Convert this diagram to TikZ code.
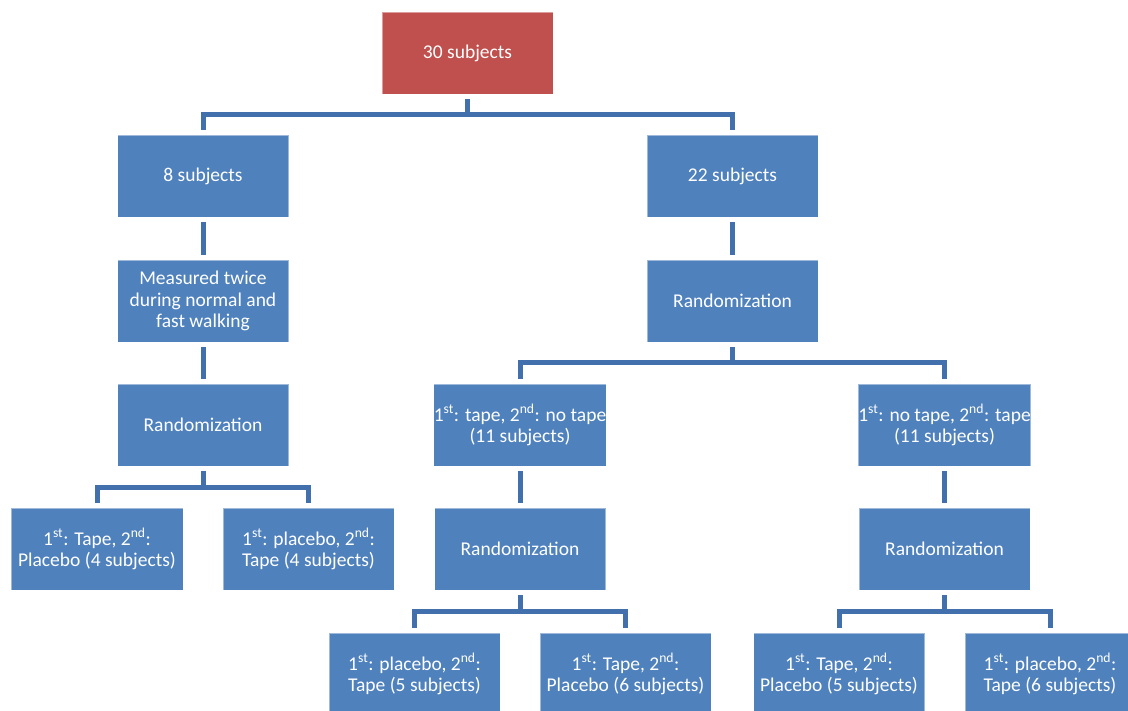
\documentclass[tikz,border=0pt]{standalone}
\usepackage{fontspec}
\setmainfont{Carlito}
\usetikzlibrary{calc}
\definecolor{boxblue}{RGB}{79,129,189}
\definecolor{boxred}{RGB}{192,80,77}
\definecolor{connblue}{RGB}{66,112,172}
\tikzset{
  box/.style={rectangle, fill=boxblue, draw=white, draw opacity=0.45, line width=0.8pt,
    minimum width=171pt, minimum height=82pt, inner sep=0pt, align=center,
    text=white, font=\fontsize{19.5}{21.5}\selectfont},
  redbox/.style={box, fill=boxred},
  conn/.style={draw=connblue, line width=5pt, line cap=butt, line join=miter}
}
\newcommand{\sst}{\textsuperscript{st}}
\newcommand{\snd}{\textsuperscript{nd}}
\begin{document}
\begin{tikzpicture}[x=1pt,y=-1pt]
\clip (0,0) rectangle (1128,711);
\fill[white] (0,0) rectangle (1128,711);
% nodes
\node[redbox] (top) at (467.5,53) {30 subjects};
\node[box] (n8) at (203,176) {8 subjects};
\node[box] (n22) at (732.5,176) {22 subjects};
\node[box] (meas) at (203,301) {Measured twice\\during normal and\\fast walking};
\node[box] (randR) at (732.5,301) {Randomization};
\node[box] (randL) at (203,425) {Randomization};
\node[box] (tapeA) at (520,425) {1\sst: tape, 2\snd: no tape\\(11 subjects)};
\node[box] (tapeB) at (944.5,425) {1\sst: no tape, 2\snd: tape\\(11 subjects)};
\node[box, minimum width=172pt] (L1) at (97,549) {1\sst: Tape, 2\snd:\\Placebo (4 subjects)};
\node[box] (L2) at (308.5,549) {1\sst: placebo, 2\snd:\\Tape (4 subjects)};
\node[box] (randM) at (520,549) {Randomization};
\node[box] (randRR) at (944.5,549) {Randomization};
\node[box] (M1) at (414.5,674) {1\sst: placebo, 2\snd:\\Tape (5 subjects)};
\node[box] (M2) at (625.5,674) {1\sst: Tape, 2\snd:\\Placebo (6 subjects)};
\node[box] (R1) at (839,674) {1\sst: Tape, 2\snd:\\Placebo (5 subjects)};
\node[box, minimum width=170pt] (R2) at (1050,674) {1\sst: placebo, 2\snd:\\Tape (6 subjects)};
% bar coordinates
\coordinate (b1) at ($(top.south)!0.5!(n8.north)$);
\coordinate (b2) at ($(randR.south)!0.5!(tapeA.north)$);
\coordinate (b3) at ($(randL.south)!0.5!(L1.north)$);
\coordinate (b4) at ($(randM.south)!0.5!(M1.north)$);
\coordinate (b5) at ($(randRR.south)!0.5!(R1.north)$);
% tree connectors
\draw[conn] ([yshift=-5pt]top.south) -- (top.south |- b1);
\draw[conn] ([yshift=5pt]n8.north) |- (n22.north |- b1) -- ([yshift=5pt]n22.north);
\draw[conn] ([yshift=-5pt]randR.south) -- (randR.south |- b2);
\draw[conn] ([yshift=5pt]tapeA.north) |- (tapeB.north |- b2) -- ([yshift=5pt]tapeB.north);
\draw[conn] ([yshift=-5pt]randL.south) -- (randL.south |- b3);
\draw[conn] ([yshift=5pt]L1.north) |- (L2.north |- b3) -- ([yshift=5pt]L2.north);
\draw[conn] ([yshift=-5pt]randM.south) -- (randM.south |- b4);
\draw[conn] ([yshift=5pt]M1.north) |- (M2.north |- b4) -- ([yshift=5pt]M2.north);
\draw[conn] ([yshift=-5pt]randRR.south) -- (randRR.south |- b5);
\draw[conn] ([yshift=5pt]R1.north) |- (R2.north |- b5) -- ([yshift=5pt]R2.north);
% straight connectors
\draw[conn] ([yshift=-5pt]n8.south) -- ([yshift=5pt]meas.north);
\draw[conn] ([yshift=-5pt]meas.south) -- ([yshift=5pt]randL.north);
\draw[conn] ([yshift=-5pt]n22.south) -- ([yshift=5pt]randR.north);
\draw[conn] ([yshift=-5pt]tapeA.south) -- ([yshift=5pt]randM.north);
\draw[conn] ([yshift=-5pt]tapeB.south) -- ([yshift=5pt]randRR.north);
\end{tikzpicture}
\end{document}
